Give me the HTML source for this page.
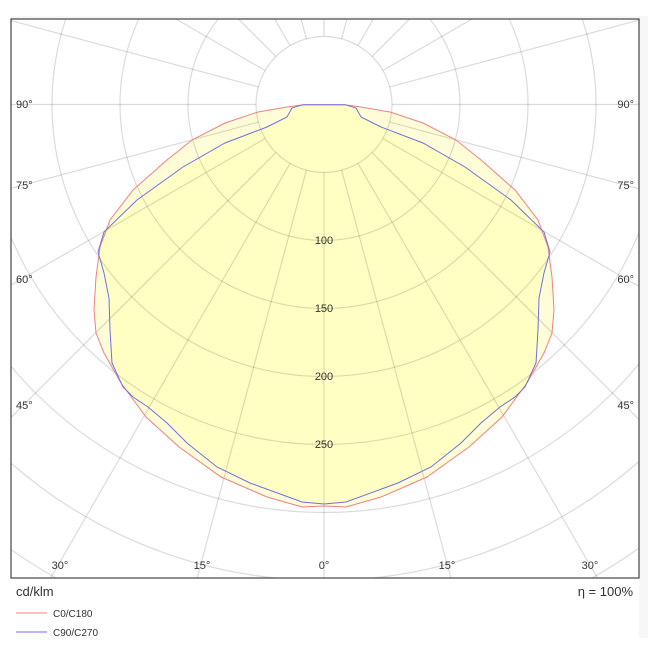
<!DOCTYPE html>
<html><head><meta charset="utf-8"><style>
html,body{margin:0;padding:0;background:#fff;width:655px;height:655px;overflow:hidden;}
svg{display:block;}
text{font-family:"Liberation Sans","DejaVu Sans",sans-serif;fill:#333;}
</style></head><body>
<svg width="655" height="655" viewBox="0 0 655 655" xmlns="http://www.w3.org/2000/svg">
<defs>
<clipPath id="c"><rect x="11" y="19" width="628" height="559"/></clipPath>
</defs>
<rect x="639" y="16" width="9" height="622" fill="#f7f7f7"/>
<rect x="11" y="16" width="637" height="3" fill="#f7f7f7"/>
<rect x="11" y="19" width="628" height="559" fill="#fff"/>
<g clip-path="url(#c)">
<path d="M303,104.7 L287,107 L258,112 L225,123 L192,140 L167,160 L133,190 L110,220 L100,247 L96,277 L94,310 L96,333 L104,353 L121,383 L146,417 L179,447 L221,477 L267,497 L302,507 L324,506 L346,507 L381,497 L427,477 L469,447 L502,417 L527,383 L544,353 L552,333 L554,310 L552,277 L548,247 L538,220 L515,190 L481,160 L456,140 L423,123 L390,112 L361,107 L345,104.7 Z" fill="#fffdd8" stroke="none"/>
<path d="M303,104.7 L292,108 L287,117 L267,127 L225,143 L183,167 L137,200 L104,232 L98,252 L104,273 L109,298 L110,330 L112,363 L123,387 L133,397 L148,407 L167,423 L187,443 L217,467 L250,483 L302,502 L324,504 L346,502 L398,483 L431,467 L461,443 L481,423 L500,407 L515,397 L525,387 L536,363 L538,330 L539,298 L544,273 L550,252 L544,232 L511,200 L465,167 L423,143 L381,127 L361,117 L356,108 L345,104.7 Z" fill="#ffffc4" stroke="none"/>
<g fill="none" stroke="rgba(0,0,0,0.14)" stroke-width="1.2">
<circle cx="324" cy="104.5" r="68"/>
<circle cx="324" cy="104.5" r="136"/>
<circle cx="324" cy="104.5" r="204"/>
<circle cx="324" cy="104.5" r="272"/>
<circle cx="324" cy="104.5" r="340"/>
<circle cx="324" cy="104.5" r="408"/>
<circle cx="324" cy="104.5" r="476"/>
<circle cx="324" cy="104.5" r="544"/>
<g id="rays">
<line x1="324" y1="172.5" x2="324" y2="1000"/>
</g>
<use href="#rays" transform="rotate(15 324 104.5)"/>
<use href="#rays" transform="rotate(30 324 104.5)"/>
<use href="#rays" transform="rotate(45 324 104.5)"/>
<use href="#rays" transform="rotate(60 324 104.5)"/>
<use href="#rays" transform="rotate(75 324 104.5)"/>
<use href="#rays" transform="rotate(90 324 104.5)"/>
<use href="#rays" transform="rotate(105 324 104.5)"/>
<use href="#rays" transform="rotate(120 324 104.5)"/>
<use href="#rays" transform="rotate(135 324 104.5)"/>
<use href="#rays" transform="rotate(150 324 104.5)"/>
<use href="#rays" transform="rotate(165 324 104.5)"/>
<use href="#rays" transform="rotate(180 324 104.5)"/>
<use href="#rays" transform="rotate(-15 324 104.5)"/>
<use href="#rays" transform="rotate(-30 324 104.5)"/>
<use href="#rays" transform="rotate(-45 324 104.5)"/>
<use href="#rays" transform="rotate(-60 324 104.5)"/>
<use href="#rays" transform="rotate(-75 324 104.5)"/>
<use href="#rays" transform="rotate(-90 324 104.5)"/>
<use href="#rays" transform="rotate(-105 324 104.5)"/>
<use href="#rays" transform="rotate(-120 324 104.5)"/>
<use href="#rays" transform="rotate(-135 324 104.5)"/>
<use href="#rays" transform="rotate(-150 324 104.5)"/>
<use href="#rays" transform="rotate(-165 324 104.5)"/>
</g>
<path d="M303,104.7 L287,107 L258,112 L225,123 L192,140 L167,160 L133,190 L110,220 L100,247 L96,277 L94,310 L96,333 L104,353 L121,383 L146,417 L179,447 L221,477 L267,497 L302,507 L324,506 L346,507 L381,497 L427,477 L469,447 L502,417 L527,383 L544,353 L552,333 L554,310 L552,277 L548,247 L538,220 L515,190 L481,160 L456,140 L423,123 L390,112 L361,107 L345,104.7 Z" fill="none" stroke="#f08080" stroke-width="1"/>
<path d="M303,104.7 L292,108 L287,117 L267,127 L225,143 L183,167 L137,200 L104,232 L98,252 L104,273 L109,298 L110,330 L112,363 L123,387 L133,397 L148,407 L167,423 L187,443 L217,467 L250,483 L302,502 L324,504 L346,502 L398,483 L431,467 L461,443 L481,423 L500,407 L515,397 L525,387 L536,363 L538,330 L539,298 L544,273 L550,252 L544,232 L511,200 L465,167 L423,143 L381,127 L361,117 L356,108 L345,104.7 Z" fill="none" stroke="#7070e0" stroke-width="1"/>
</g>
<rect x="11" y="19" width="628" height="559" fill="none" stroke="#444" stroke-width="1.2"/>
<g font-size="11" text-anchor="middle">
<text x="324" y="244">100</text>
<text x="324" y="312">150</text>
<text x="324" y="380">200</text>
<text x="324" y="448">250</text>
<text x="60" y="569">30°</text>
<text x="202" y="569">15°</text>
<text x="324" y="569">0°</text>
<text x="447" y="569">15°</text>
<text x="590" y="569">30°</text>
</g>
<g font-size="11">
<text x="16" y="108">90°</text>
<text x="16" y="189">75°</text>
<text x="16" y="283">60°</text>
<text x="16" y="409">45°</text>
</g>
<g font-size="11" text-anchor="end">
<text x="634" y="108">90°</text>
<text x="634" y="189">75°</text>
<text x="634" y="283">60°</text>
<text x="634" y="409">45°</text>
</g>
<text x="16" y="596" font-size="13">cd/klm</text>
<text x="633" y="596" font-size="13" text-anchor="end">η = 100%</text>
<line x1="16" y1="613" x2="47" y2="613" stroke="#f08080" stroke-width="1"/>
<line x1="16" y1="632" x2="47" y2="632" stroke="#7070e0" stroke-width="1"/>
<text x="53" y="617" font-size="10">C0/C180</text>
<text x="53" y="636" font-size="10">C90/C270</text>
</svg>
</body></html>
